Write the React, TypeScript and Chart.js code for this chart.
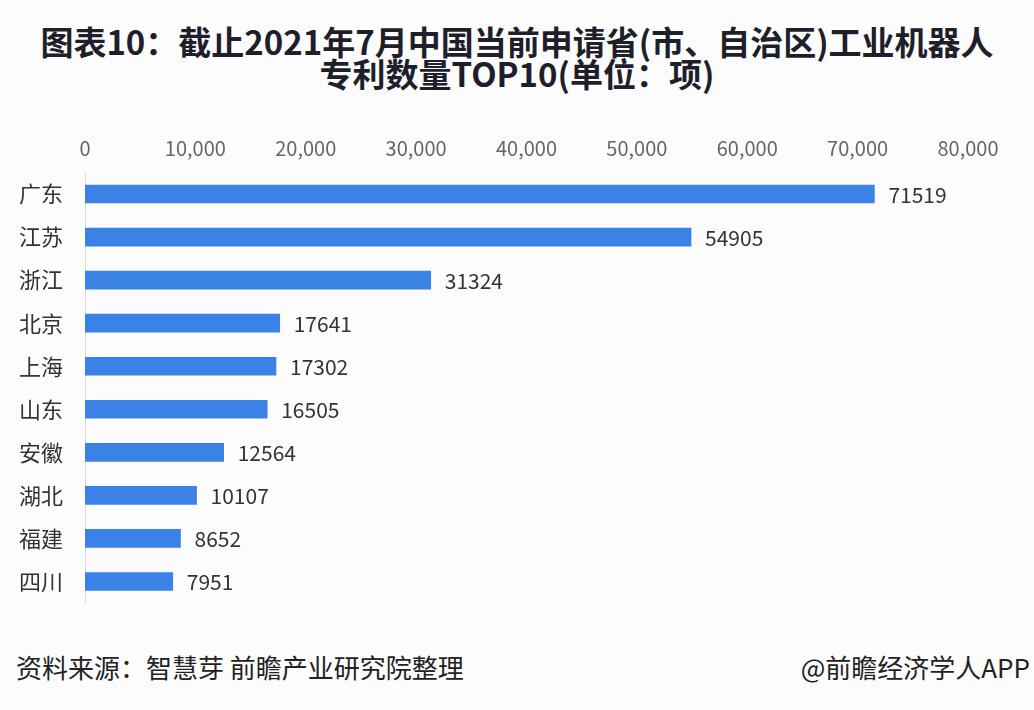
import React, { useEffect, useRef } from "react";
import { Chart, registerables } from "chart.js";

Chart.register(...registerables);

const categories = ["广东", "江苏", "浙江", "北京", "上海", "山东", "安徽", "湖北", "福建", "四川"];
const patentCounts = [71519, 54905, 31324, 17641, 17302, 16505, 12564, 10107, 8652, 7951];
const xTickMax = 80000;
const xTickStep = 10000;

const titleLines = ["图表10：截止2021年7月中国当前申请省(市、自治区)工业机器人", "专利数量TOP10(单位：项)"];
const sourceText = "资料来源：智慧芽 前瞻产业研究院整理";
const brandText = "@前瞻经济学人APP";

const FONT = '"Noto Sans CJK SC", "Noto Sans", sans-serif';

const valueLabelPlugin = {
  id: "valueLabels",
  afterDatasetsDraw(chart: any) {
    const ctx = chart.ctx;
    const meta = chart.getDatasetMeta(0);
    ctx.save();
    ctx.font = `21px ${FONT}`;
    ctx.fillStyle = "#333333";
    ctx.textAlign = "left";
    ctx.textBaseline = "middle";
    meta.data.forEach((bar: any, i: number) => {
      const v = chart.data.datasets[0].data[i];
      ctx.fillText(String(v), bar.x + 14, bar.y + 1);
    });
    ctx.restore();
  },
};

export default function App() {
  const canvasRef = useRef<HTMLCanvasElement | null>(null);

  useEffect(() => {
    if (!canvasRef.current) return;
    const chart = new Chart(canvasRef.current, {
      type: "bar",
      data: {
        labels: categories,
        datasets: [
          {
            data: patentCounts,
            backgroundColor: "#3b82e6",
            borderWidth: 0,
            barThickness: 18,
          },
        ],
      },
      options: {
        indexAxis: "y",
        animation: false,
        responsive: false,
        maintainAspectRatio: false,
        layout: { autoPadding: false, padding: { left: 0, right: 66, top: 0, bottom: 0 } },
        plugins: {
          legend: { display: false },
          tooltip: { enabled: false },
          title: { display: false },
        },
        scales: {
          x: {
            position: "top",
            min: 0,
            max: xTickMax,
            grid: { display: false, drawTicks: false },
            border: { display: false },
            ticks: {
              stepSize: xTickStep,
              padding: 12,
              color: "#666666",
              font: { family: FONT, size: 20 },
              callback: (v: any) => Number(v).toLocaleString("en-US"),
              maxRotation: 0,
              autoSkip: false,
            },
            afterFit: (scale: any) => {
              scale.height = 62.5;
              scale.paddingLeft = 0;
              scale.paddingRight = 0;
            },
          },
          y: {
            grid: { display: false, drawTicks: false },
            border: { display: true, color: "#d9d9d9", width: 1 },
            ticks: {
              padding: 22,
              color: "#333333",
              font: { family: FONT, size: 22 },
            },
            afterFit: (scale: any) => {
              scale.width = 85;
              scale.paddingTop = 0;
              scale.paddingBottom = 0;
            },
          },
        },
      },
      plugins: [valueLabelPlugin],
    });
    return () => chart.destroy();
  }, []);

  return (
    <div
      style={{
        position: "fixed",
        left: 0,
        top: 0,
        width: 1034,
        height: 710,
        background: "#fcfcfc",
        overflow: "hidden",
        fontFamily: FONT,
      }}
    >
      <div
        style={{
          position: "absolute",
          left: 0,
          top: 25,
          width: 1034,
          textAlign: "center",
          fontSize: 33,
          fontWeight: 700,
          lineHeight: "32px",
          color: "#1f1f2b",
          whiteSpace: "nowrap",
        }}
      >
        {titleLines.map((t, i) => (
          <div key={i}>{t}</div>
        ))}
      </div>
      <canvas
        ref={canvasRef}
        width={1034}
        height={493}
        style={{ position: "absolute", left: 0, top: 110, width: 1034, height: 493 }}
      />
      <div
        style={{
          position: "absolute",
          left: 16,
          top: 650,
          fontSize: 26,
          lineHeight: "34px",
          color: "#222222",
          whiteSpace: "pre",
        }}
      >
        {sourceText}
      </div>
      <div
        style={{
          position: "absolute",
          right: 4,
          top: 650,
          fontSize: 26,
          lineHeight: "34px",
          color: "#222222",
          whiteSpace: "pre",
        }}
      >
        {brandText}
      </div>
    </div>
  );
}
